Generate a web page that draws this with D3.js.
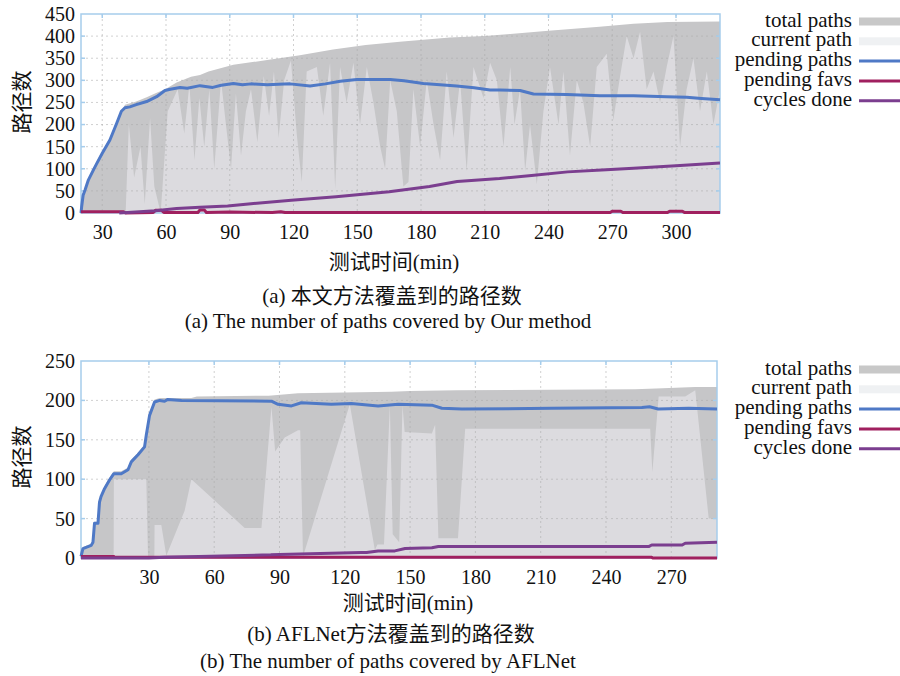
<!DOCTYPE html>
<html>
<head>
<meta charset="utf-8">
<script src="https://cdn.jsdelivr.net/npm/d3@7"></script>
<style>
  body { margin: 0; background: #fff; }
  text { font-family: "Liberation Serif", "Times New Roman", Times, serif; fill: #111; }
  text.cjk { font-family: "Liberation Serif", "Times New Roman", Times, "Noto Sans CJK SC", serif; }
</style>
</head>
<body>
<div id="chart"></div>
<script>
// ---- data (minutes, number of paths) ----
// (a) our method
const ourTotalPaths = [[20,0],[20.3,16],[21.9,56],[25.8,102],[27.2,115],[33.6,170],[36.8,208],[40.7,245],[46,252],[50.9,262],[55.6,272],[59.6,280],[65,295],[71.8,308],[76,312],[80,320],[91.7,335],[107.6,346],[123,357],[138.6,370],[154,380],[170,387],[193.6,397],[210,400],[222,405],[240,412],[264,421],[280,428],[296,432],[320.7,433]];
const ourCurrentPath = [[20,0],[41,0],[42.5,200],[45,80],[48,150],[50,20],[52.5,215],[54.5,60],[57.5,0],[60.8,230],[65.5,280],[68.6,180],[71,290],[73.4,120],[75.7,260],[78,150],[80.4,280],[82.7,100],[85.9,300],[88.2,200],[90.6,100],[92.9,270],[95.3,130],[97.6,230],[100,280],[103,160],[106,310],[108.5,220],[110.8,320],[113,170],[115.6,300],[118.8,345],[121.5,180],[123.9,70],[126.2,320],[131,330],[134,220],[137.2,340],[139.6,55],[141.9,330],[145,250],[148.2,340],[151.3,200],[154.5,330],[157.6,250],[160.8,150],[163.1,100],[165.5,300],[168.6,230],[171.7,60],[174.1,70],[176.4,280],[179.6,150],[182.7,300],[185.9,200],[189,120],[192.1,320],[195.3,170],[198.4,300],[201.5,95],[204.7,330],[209.4,260],[212.5,340],[215.7,300],[218.8,150],[222,330],[224,200],[226.6,280],[229,95],[231.3,200],[234.5,65],[237.6,230],[240.7,330],[244.7,200],[247,320],[250.1,130],[253.3,300],[256.4,250],[259.6,150],[262.7,330],[267.4,360],[270.5,210],[273.7,310],[276.8,400],[280,350],[283.1,410],[286.2,280],[289.4,320],[292.5,250],[295.6,330],[298.8,400],[301.9,150],[305,280],[308.2,350],[311.3,230],[314.5,320],[317.6,200],[320.7,280]];
const ourPendingPaths = [[20,0],[20.3,14],[21,40],[21.9,52],[23.5,75],[25.8,97],[27.2,110],[30,135],[33.6,165],[36.8,203],[39,230],[40.7,238],[43,240],[46,245],[50.9,252],[55.6,263],[59.5,277],[62,280],[66.6,284],[70,282],[76,288],[82,284],[86,289],[91.7,293],[96,290],[100,292],[107.6,290],[118.4,292],[127.8,287],[135,292],[142,298],[149.8,302],[165.5,302],[172,299],[181.1,293],[196.8,287],[205,283],[212.5,278],[217,278],[226.6,277],[232.9,269],[248.6,268],[264.2,265],[280,265],[295.6,263],[305,262],[312,259],[320.7,256]];
const ourPendingFavs = [[20,3],[40,3],[41,0],[54,1],[55,6],[58,6],[59,1],[75,1],[76,7],[78,7],[79,1],[90,2],[110,1],[114,3],[116,1],[140,1],[200,1],[269,1],[270,4],[274,4],[275,1],[296,1],[297,4],[303,4],[304,1],[320.7,1]];
const ourCyclesDone = [[38,0],[42,1],[55,5],[65,10],[76,13],[89,16],[100,21],[119,29],[140,37],[165,48],[184,60],[197,71],[217,78],[232,85],[249,93],[265,97],[280,101],[300,107],[320.7,113]];

// (b) AFLNet
const aflTotalPaths = [[-1.2,4],[-0.3,14],[3.5,18],[4.3,22],[5,46],[6.6,46],[7.3,74],[9.6,91],[11.9,102],[13.9,110],[17.3,110],[20.4,115],[21.9,125],[25,134],[28,144],[28.8,159],[30.3,184],[32.6,201],[35,203],[49.5,203],[52,205],[85,206],[98.5,209],[120,210],[141.4,211],[150,212],[171.5,213],[253.4,214],[263,215],[281,217],[291,217]];
const aflCurrentPath = [[-1.2,0],[13.8,0],[13.9,100],[28.8,100],[29.6,0],[32.5,0],[32.6,42],[35.7,42],[38,3],[46.4,60],[49.5,100],[74,38],[81.7,38],[86.3,192],[88,135],[92.4,153],[98.5,162],[99.5,162],[100.8,2],[122.3,195],[133.8,10],[135,17],[138,17],[140.7,194],[142,30],[145,20],[146.5,194],[147.5,160],[160,158],[161.5,169],[163,25],[172,25],[175.3,164],[260.3,164],[261.3,109],[264.2,205],[276.4,205],[281,213],[287.2,50],[291,50]];
const aflPendingPaths = [[-1.2,2],[-0.3,12],[3.5,16],[4.3,20],[5,44],[6.6,44],[7.3,71],[8,78],[9.6,88],[11.9,99],[13.9,107],[17.3,107],[20.4,112],[21.9,122],[25,131],[28,141],[28.8,156],[30.3,181],[32.6,198],[35,200],[37.2,199],[38.5,201],[45,200],[86.3,199],[89.3,195],[95.5,193],[100,197],[113.8,195],[123,196],[135.3,193],[144.5,195],[160,194],[164.6,190],[173.8,189],[215,190],[256.5,191],[260,192],[264,189],[278,190],[291,189]];
const aflPendingFavs = [[-1.2,2],[13.9,2],[14,0.8],[261,0.8],[261.5,0],[291,0]];
const aflCyclesDone = [[-1.2,0],[30,0],[37.2,1],[86,4],[90,4.5],[127.6,7],[130,7],[135.3,9],[143,9],[147.7,12],[160,13],[163,14.5],[259.6,14.5],[261,16.5],[275,16.5],[276.4,18.7],[291,20]];

const topXTicks = [30, 60, 90, 120, 150, 180, 210, 240, 270, 300];
const topYTicks = [0, 50, 100, 150, 200, 250, 300, 350, 400, 450];
const bottomXTicks = [30, 60, 90, 120, 150, 180, 210, 240, 270];
const bottomYTicks = [0, 50, 100, 150, 200, 250];

const legendLabels = ["total paths", "current path", "pending paths", "pending favs", "cycles done"];
const xTitle = "测试时间(min)";
const yTitle = "路径数";
const topCaptions = ["(a) 本文方法覆盖到的路径数", "(a) The number of paths covered by Our method"];
const bottomCaptions = ["(b) AFLNet方法覆盖到的路径数", "(b) The number of paths covered by AFLNet"];

var colors = {
  total: "#c6c6c8", current: "#dcdbdf",
  pending: "#4f79c6", favs: "#a0205f", cycles: "#7b3e8f",
  border: "#a6cdec", grid: "#a9a9a9"
};

var svg = d3.select("#chart").append("svg")
  .attr("width", 900)
  .attr("height", 676);

function drawPanel(p) {
  var x = d3.scaleLinear().domain(p.xDomain).range([p.left, p.right]);
  var y = d3.scaleLinear().domain(p.yDomain).range([p.bottom, p.top]);
  var g = svg.append("g");

  g.append("clipPath").attr("id", "clip-" + p.id)
    .append("rect")
      .attr("x", p.left).attr("y", p.top)
      .attr("width", p.right - p.left).attr("height", p.bottom - p.top);

  var area = d3.area()
    .x(function(d) { return x(d[0]); })
    .y0(y(0))
    .y1(function(d) { return y(d[1]); });
  var line = d3.line()
    .x(function(d) { return x(d[0]); })
    .y(function(d) { return y(d[1]); });

  var plot = g.append("g").attr("clip-path", "url(#clip-" + p.id + ")");
  plot.append("path").datum(p.total).attr("d", area).attr("fill", colors.total);
  plot.append("path").datum(p.current).attr("d", area).attr("fill", colors.current);

  // dotted grid on top of the fills
  g.selectAll(".vgrid").data(p.xTicks).enter().append("line")
    .attr("x1", function(d) { return x(d); }).attr("x2", function(d) { return x(d); })
    .attr("y1", p.top).attr("y2", p.bottom)
    .attr("stroke", colors.grid).attr("stroke-opacity", 0.55)
    .attr("stroke-dasharray", "2,3");
  g.selectAll(".hgrid").data(p.yTicks.slice(1, -1)).enter().append("line")
    .attr("x1", p.left).attr("x2", p.right)
    .attr("y1", function(d) { return y(d); }).attr("y2", function(d) { return y(d); })
    .attr("stroke", colors.grid).attr("stroke-opacity", 0.55)
    .attr("stroke-dasharray", "2,3");

  // border and mirrored ticks
  g.append("rect")
    .attr("x", p.left).attr("y", p.top)
    .attr("width", p.right - p.left).attr("height", p.bottom - p.top)
    .attr("fill", "none").attr("stroke", colors.border).attr("stroke-width", 1.5);
  p.yTicks.slice(1, -1).forEach(function(v) {
    g.append("line").attr("x1", p.left).attr("x2", p.left + 4)
      .attr("y1", y(v)).attr("y2", y(v)).attr("stroke", colors.border).attr("stroke-width", 1.5);
    g.append("line").attr("x1", p.right - 4).attr("x2", p.right)
      .attr("y1", y(v)).attr("y2", y(v)).attr("stroke", colors.border).attr("stroke-width", 1.5);
  });
  p.xTicks.forEach(function(v) {
    g.append("line").attr("x1", x(v)).attr("x2", x(v))
      .attr("y1", p.top).attr("y2", p.top + 4).attr("stroke", colors.border).attr("stroke-width", 1.5);
  });

  // series lines
  [[p.pending, colors.pending], [p.favs, colors.favs], [p.cycles, colors.cycles]].forEach(function(s) {
    g.append("path").datum(s[0]).attr("d", line)
      .attr("fill", "none").attr("stroke", s[1])
      .attr("stroke-width", 3).attr("stroke-linejoin", "round");
  });

  // axes (labels only)
  var xAxis = g.append("g")
    .attr("transform", "translate(0," + p.bottom + ")")
    .call(d3.axisBottom(x).tickValues(p.xTicks).tickSize(0).tickPadding(12));
  var yAxis = g.append("g")
    .attr("transform", "translate(" + p.left + ",0)")
    .call(d3.axisLeft(y).tickValues(p.yTicks).tickSize(0).tickPadding(6));
  [xAxis, yAxis].forEach(function(a) {
    a.select(".domain").remove();
    a.attr("font-family", null).attr("font-size", null);
    a.selectAll("text").style("font-size", "20px").attr("fill", "#111");
  });

  // axis titles
  g.append("text").attr("class", "cjk")
    .attr("transform", "translate(" + 29 + "," + p.yTitleY + ") rotate(-90)")
    .attr("text-anchor", "middle").style("font-size", "21px")
    .text(yTitle);
  g.append("text").attr("class", "cjk")
    .attr("x", p.xTitleX).attr("y", p.xTitleY)
    .attr("text-anchor", "middle").style("font-size", "21px")
    .text(xTitle);
  p.captions.forEach(function(c, i) {
    g.append("text").attr("class", "cjk")
      .attr("x", p.captionX[i]).attr("y", p.captionY[i])
      .attr("text-anchor", "middle").style("font-size", "21px")
      .text(c);
  });

  // legend
  var lg = g.append("g");
  legendLabels.forEach(function(label, i) {
    var cy = p.legendY + i * 19.8;
    lg.append("text")
      .attr("x", 852).attr("y", cy + 6)
      .attr("text-anchor", "end").style("font-size", "21px")
      .text(label);
    if (i === 0) {
      lg.append("rect").attr("x", 859).attr("y", cy - 3).attr("width", 41).attr("height", 8).attr("fill", "#c8c8c8");
    } else if (i === 1) {
      lg.append("rect").attr("x", 859).attr("y", cy - 3).attr("width", 41).attr("height", 8).attr("fill", "#eff1f3");
    } else {
      var c = [colors.pending, colors.favs, colors.cycles][i - 2];
      lg.append("line").attr("x1", 859).attr("x2", 900)
        .attr("y1", cy + 1).attr("y2", cy + 1)
        .attr("stroke", c).attr("stroke-width", 3);
    }
  });
}

drawPanel({
  id: "top", left: 81, right: 720, top: 14, bottom: 213,
  xDomain: [20, 320.7], yDomain: [0, 450],
  xTicks: topXTicks, yTicks: topYTicks,
  total: ourTotalPaths, current: ourCurrentPath,
  pending: ourPendingPaths, favs: ourPendingFavs, cycles: ourCyclesDone,
  yTitleY: 102, xTitleX: 394, xTitleY: 269,
  captions: topCaptions, captionX: [392, 388], captionY: [303, 328],
  legendY: 20.5
});

drawPanel({
  id: "bottom", left: 81, right: 717, top: 361, bottom: 558,
  xDomain: [-1.2, 291], yDomain: [0, 250],
  xTicks: bottomXTicks, yTicks: bottomYTicks,
  total: aflTotalPaths, current: aflCurrentPath,
  pending: aflPendingPaths, favs: aflPendingFavs, cycles: aflCyclesDone,
  yTitleY: 457, xTitleX: 408, xTitleY: 610,
  captions: bottomCaptions, captionX: [391, 388], captionY: [641, 668],
  legendY: 368.5
});
</script>
</body>
</html>
